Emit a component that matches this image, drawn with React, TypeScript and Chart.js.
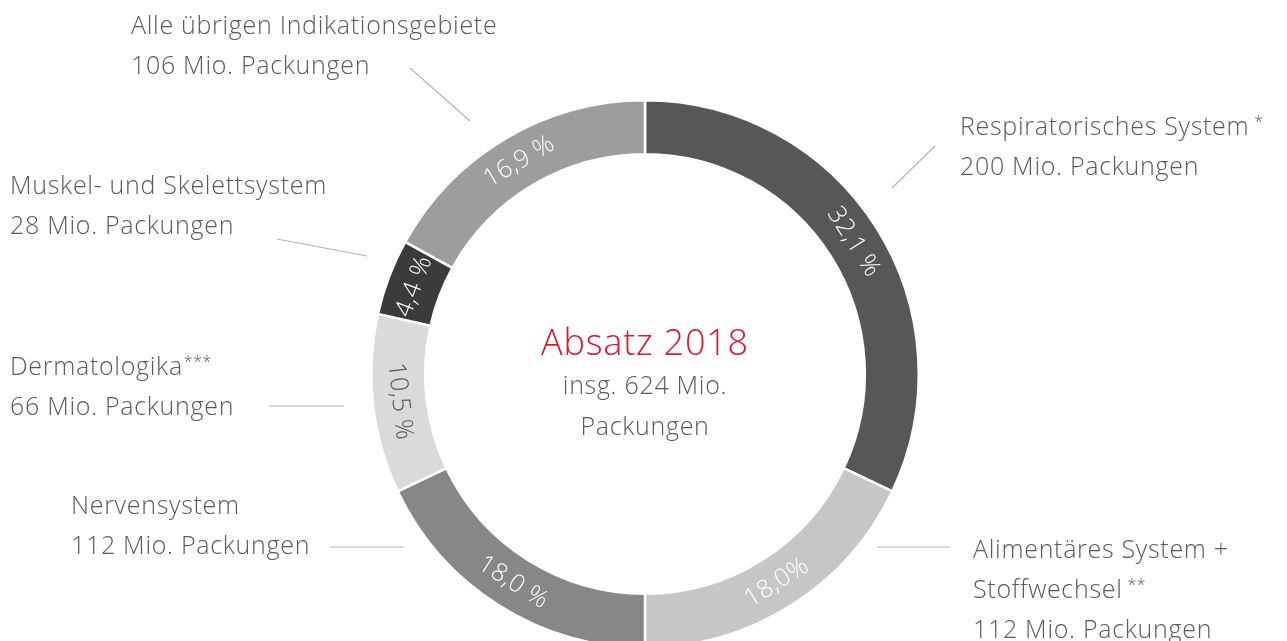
import React, { useEffect, useRef } from "react";
import { Chart, registerables } from "chart.js";

Chart.register(...registerables);

// ---- data ----
const categories = [
  "Respiratorisches System",
  "Alimentäres System + Stoffwechsel",
  "Nervensystem",
  "Dermatologika",
  "Muskel- und Skelettsystem",
  "Alle übrigen Indikationsgebiete",
];
const packungenMio = [200, 112, 112, 66, 28, 106];
const percentLabels = ["32,1 %", "18,0%", "18,0 %", "10,5 %", "4,4 %", "16,9 %"];
const footnotes = ["*", "**", "", "***", "", ""];
const labelLines: string[][] = [
  ["Respiratorisches System", "200 Mio. Packungen"],
  ["Alimentäres System +", "Stoffwechsel", "112 Mio. Packungen"],
  ["Nervensystem", "112 Mio. Packungen"],
  ["Dermatologika", "66 Mio. Packungen"],
  ["Muskel- und Skelettsystem", "28 Mio. Packungen"],
  ["Alle übrigen Indikationsgebiete", "106 Mio. Packungen"],
];
const centerTitle = "Absatz 2018";
const centerLines = ["insg. 624 Mio.", "Packungen"];

// ---- styles / layout ----
const segmentColors = ["#575757", "#c6c6c6", "#878787", "#dadada", "#3b3b3b", "#9d9d9d"];
const percentColors = ["#ffffff", "#ffffff", "#ffffff", "#555555", "#ffffff", "#ffffff"];
const labelLayout = [
  { x: 960, y: 128, fnLine: 0, fnGap: 5 },
  { x: 973, y: 551, fnLine: 1, fnGap: 5 },
  { x: 71, y: 507, fnLine: -1, fnGap: 0 },
  { x: 10, y: 368, fnLine: 0, fnGap: 1 },
  { x: 10, y: 187, fnLine: -1, fnGap: 0 },
  { x: 131, y: 27, fnLine: -1, fnGap: 0 },
];
const connectors = [
  [892, 188, 935, 146],
  [877, 547, 950, 547],
  [330, 547, 404, 547],
  [269, 406, 344, 406],
  [277, 239, 367, 256],
  [410, 68, 470, 121],
];

const FONT = "'Open Sans', 'Liberation Sans', sans-serif";

function setFont(ctx: any, size: number, spacing: number) {
  ctx.font = `300 ${size}px ${FONT}`;
  try {
    ctx.letterSpacing = `${spacing}px`;
  } catch (e) {}
}

const labelsPlugin = {
  id: "customLabels",
  afterDraw(chart: any) {
    const ctx = chart.ctx as CanvasRenderingContext2D;
    const meta = chart.getDatasetMeta(0);
    ctx.save();
    meta.data.forEach((arc: any, i: number) => {
      const p = arc.getProps(["x", "y", "startAngle", "endAngle", "innerRadius", "outerRadius"], true);
      const mid = (p.startAngle + p.endAngle) / 2;
      const r = (p.innerRadius + p.outerRadius) / 2;
      const px = p.x + r * Math.cos(mid);
      const py = p.y + r * Math.sin(mid);
      let rot = mid + Math.PI / 2;
      while (rot >= Math.PI) rot -= 2 * Math.PI;
      while (rot < -Math.PI) rot += 2 * Math.PI;
      if (rot > Math.PI / 2) rot -= Math.PI;
      if (rot < -Math.PI / 2) rot += Math.PI;
      ctx.save();
      ctx.translate(px, py);
      ctx.rotate(rot);
      setFont(ctx, 25, 0.5);
      ctx.fillStyle = percentColors[i];
      ctx.textAlign = "center";
      ctx.textBaseline = "middle";
      ctx.fillText(percentLabels[i], 0, 0);
      ctx.restore();
    });

    ctx.strokeStyle = "#b4b4b4";
    ctx.lineWidth = 1.2;
    connectors.forEach(([x1, y1, x2, y2]) => {
      ctx.beginPath();
      ctx.moveTo(x1, y1);
      ctx.lineTo(x2, y2);
      ctx.stroke();
    });

    ctx.textAlign = "left";
    ctx.textBaseline = "middle";
    labelLines.forEach((lines, i) => {
      const L = labelLayout[i];
      lines.forEach((t, j) => {
        const y = L.y + j * 40;
        setFont(ctx, 25, 0.7);
        ctx.fillStyle = "#5a5a5a";
        ctx.fillText(t, L.x, y);
        if (j === L.fnLine && footnotes[i]) {
          const w = ctx.measureText(t).width;
          setFont(ctx, 16, 0.5);
          ctx.fillText(footnotes[i], L.x + w + L.fnGap, y - 6);
        }
      });
    });

    const a0 = meta.data[0];
    const cx = a0.x;
    const cy = a0.y;
    ctx.textAlign = "center";
    setFont(ctx, 36, 0.8);
    ctx.fillStyle = "#e3142d";
    ctx.fillText(centerTitle, cx, cy - 29);
    setFont(ctx, 25, 0.7);
    ctx.fillStyle = "#5a5a5a";
    centerLines.forEach((t, j) => ctx.fillText(t, cx, cy + 13 + j * 41));
    ctx.restore();
  },
};

export default function App() {
  const ref = useRef<HTMLCanvasElement | null>(null);
  useEffect(() => {
    document.body.style.margin = "0";
    const chart = new Chart(ref.current as HTMLCanvasElement, {
      type: "doughnut",
      data: {
        labels: categories,
        datasets: [
          {
            data: packungenMio,
            backgroundColor: segmentColors,
            borderColor: "#ffffff",
            borderWidth: 2.5,
          },
        ],
      },
      options: {
        responsive: false,
        maintainAspectRatio: false,
        animation: false,
        devicePixelRatio: 1,
        cutout: "80.3%",
        layout: { padding: { left: 370, right: 367, top: 99, bottom: 51 } },
        plugins: {
          legend: { display: false },
          tooltip: { enabled: false },
        },
      },
      plugins: [labelsPlugin],
    });
    return () => chart.destroy();
  }, []);
  return (
    <div
      style={{
        position: "absolute",
        left: 0,
        top: 0,
        width: 1287,
        height: 641,
        overflow: "hidden",
        background: "#ffffff",
      }}
    >
      <canvas ref={ref} width={1287} height={700} style={{ width: 1287, height: 700, display: "block" }} />
    </div>
  );
}
